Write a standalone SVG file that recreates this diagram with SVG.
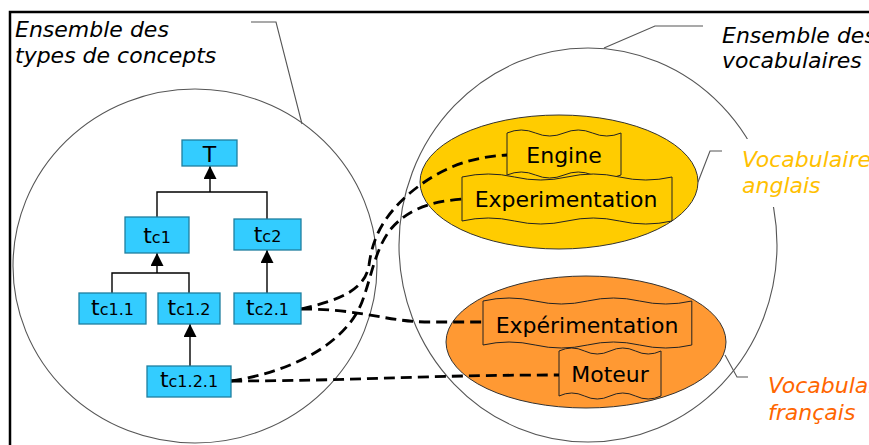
<svg xmlns="http://www.w3.org/2000/svg" width="869" height="445" viewBox="0 0 869 445">
<style>
.lbl{font-family:"DejaVu Sans","Verdana",sans-serif;font-style:italic;font-size:22px}
.set{fill:none;stroke:#555;stroke-width:1.1}
.lead{fill:none;stroke:#555;stroke-width:1.1}
.node rect{fill:#33CCFF;stroke:#1f7f9f;stroke-width:1.3}
.nt{font-family:"DejaVu Sans","Verdana",sans-serif;font-size:22px;fill:#000}
.sub{font-size:16px}
.tree{fill:none;stroke:#000;stroke-width:1.4}
.dash{fill:none;stroke:#000;stroke-width:2.8;stroke-dasharray:11 6}
.tape{stroke:#222;stroke-width:1}
.wt{font-family:"DejaVu Sans","Verdana",sans-serif;font-size:22px;fill:#000;text-anchor:middle}
</style>
<defs>
<marker id="arr" markerUnits="userSpaceOnUse" markerWidth="13" markerHeight="13" refX="13" refY="6.5" orient="auto">
<path d="M0,0 L13,6.5 L0,13 z" fill="#000"/>
</marker>
</defs>
<rect x="0" y="0" width="869" height="445" fill="#fff"/>
<path d="M10,445 V12 H869" fill="none" stroke="#000" stroke-width="2.5"/>

<g id="set-concepts">
<ellipse class="set" cx="195" cy="266" rx="182" ry="177"/>
<polyline class="lead" points="251,22 276,22 302,124"/>
<text class="lbl" x="15" y="37">Ensemble des</text>
<text class="lbl" x="15" y="63">types de concepts</text>
</g>

<g id="set-vocab">
<ellipse class="set" cx="588" cy="245" rx="189" ry="197"/>
<polyline class="lead" points="703,26 655,26 604,48"/>
<text class="lbl" x="722" y="43">Ensemble des</text>
<text class="lbl" x="722" y="68">vocabulaires</text>
</g>

<g id="vocab-en">
<ellipse cx="559" cy="182" rx="139" ry="67" fill="#FFCC00" stroke="#333" stroke-width="1"/>
<rect x="740" y="139" width="129" height="68" fill="#fff"/>
<polyline class="lead" points="722,151 710,151 698,182"/>
<text class="lbl" x="742" y="167" fill="#FFC000">Vocabulaire</text>
<text class="lbl" x="742" y="193" fill="#FFC000">anglais</text>
</g>

<g id="vocab-fr">
<ellipse cx="586" cy="342" rx="140" ry="66" fill="#FF9933" stroke="#333" stroke-width="1"/>
<polyline class="lead" points="725,355 737,377 748,377"/>
<text class="lbl" x="768" y="393" fill="#FF6600">Vocabulaire</text>
<text class="lbl" x="768" y="420" fill="#FF6600">français</text>
</g>

<g id="w-engine">
<path class="tape" fill="#FFCC00" d="M507,133 q14.25,-6 28.5,0 t28.5,0 t28.5,0 t28.5,0 v42 q-14.25,6 -28.5,0 t-28.5,0 t-28.5,0 t-28.5,0 z"/>
<text class="wt" x="564" y="163">Engine</text>
</g>
<g id="w-experimentation">
<path class="tape" fill="#FFCC00" d="M462,177 q26.25,-6 52.5,0 t52.5,0 t52.5,0 t52.5,0 v44 q-26.25,6 -52.5,0 t-52.5,0 t-52.5,0 t-52.5,0 z"/>
<text class="wt" x="566" y="207">Experimentation</text>
</g>
<g id="w-experimentation-fr">
<path class="tape" fill="#FF9933" d="M483,301 q26.1,-6 52.2,0 t52.2,0 t52.2,0 t52.2,0 v44 q-26.1,6 -52.2,0 t-52.2,0 t-52.2,0 t-52.2,0 z"/>
<text class="wt" x="587" y="333">Expérimentation</text>
</g>
<g id="w-moteur">
<path class="tape" fill="#FF9933" d="M559,351 q12.75,-6 25.5,0 t25.5,0 t25.5,0 t25.5,0 v45 q-12.75,6 -25.5,0 t-25.5,0 t-25.5,0 t-25.5,0 z"/>
<text class="wt" x="610" y="382">Moteur</text>
</g>

<g id="connectors">
<path class="tree" d="M210,192 V166" marker-end="url(#arr)"/>
<path class="tree" d="M157,217 V192 H267 V219"/>
<path class="tree" d="M157,273 V253" marker-end="url(#arr)"/>
<path class="tree" d="M112,293 V273 H189 V293"/>
<path class="tree" d="M267,293 V250" marker-end="url(#arr)"/>
<path class="tree" d="M190,366 V324" marker-end="url(#arr)"/>
<path class="dash" d="M301,309 C340,300 365,290 369,265 C373,235 385,215 410,193 C440,168 470,157 507,155"/>
<path class="dash" d="M231,381 C290,372 345,345 362,302 C372,275 375,250 390,230 C405,212 425,202 462,199"/>
<path class="dash" d="M301,309 C365,309 385,322 430,322 L483,322"/>
<path class="dash" d="M231,381 C350,381 420,375 559,375"/>
</g>

<g id="tc121" class="node"><rect x="147" y="366" width="84" height="31"/><text class="nt" x="189" y="387" text-anchor="middle">t<tspan class="sub">c1.2.1</tspan></text></g>
<g id="T" class="node"><rect x="182" y="140" width="55" height="26"/><text class="nt" x="209.5" y="162" text-anchor="middle">T</text></g>
<g id="tc1" class="node"><rect x="125" y="217" width="64" height="36"/><text class="nt" x="157" y="243" text-anchor="middle">t<tspan class="sub">c1</tspan></text></g>
<g id="tc2" class="node"><rect x="234" y="219" width="67" height="31"/><text class="nt" x="267.5" y="242" text-anchor="middle">t<tspan class="sub">c2</tspan></text></g>
<g id="tc11" class="node"><rect x="79" y="293" width="67" height="31"/><text class="nt" x="112.5" y="315" text-anchor="middle">t<tspan class="sub">c1.1</tspan></text></g>
<g id="tc12" class="node"><rect x="158" y="293" width="62" height="31"/><text class="nt" x="189" y="315" text-anchor="middle">t<tspan class="sub">c1.2</tspan></text></g>
<g id="tc21" class="node"><rect x="234" y="293" width="67" height="31"/><text class="nt" x="267.5" y="315" text-anchor="middle">t<tspan class="sub">c2.1</tspan></text></g>
</svg>
